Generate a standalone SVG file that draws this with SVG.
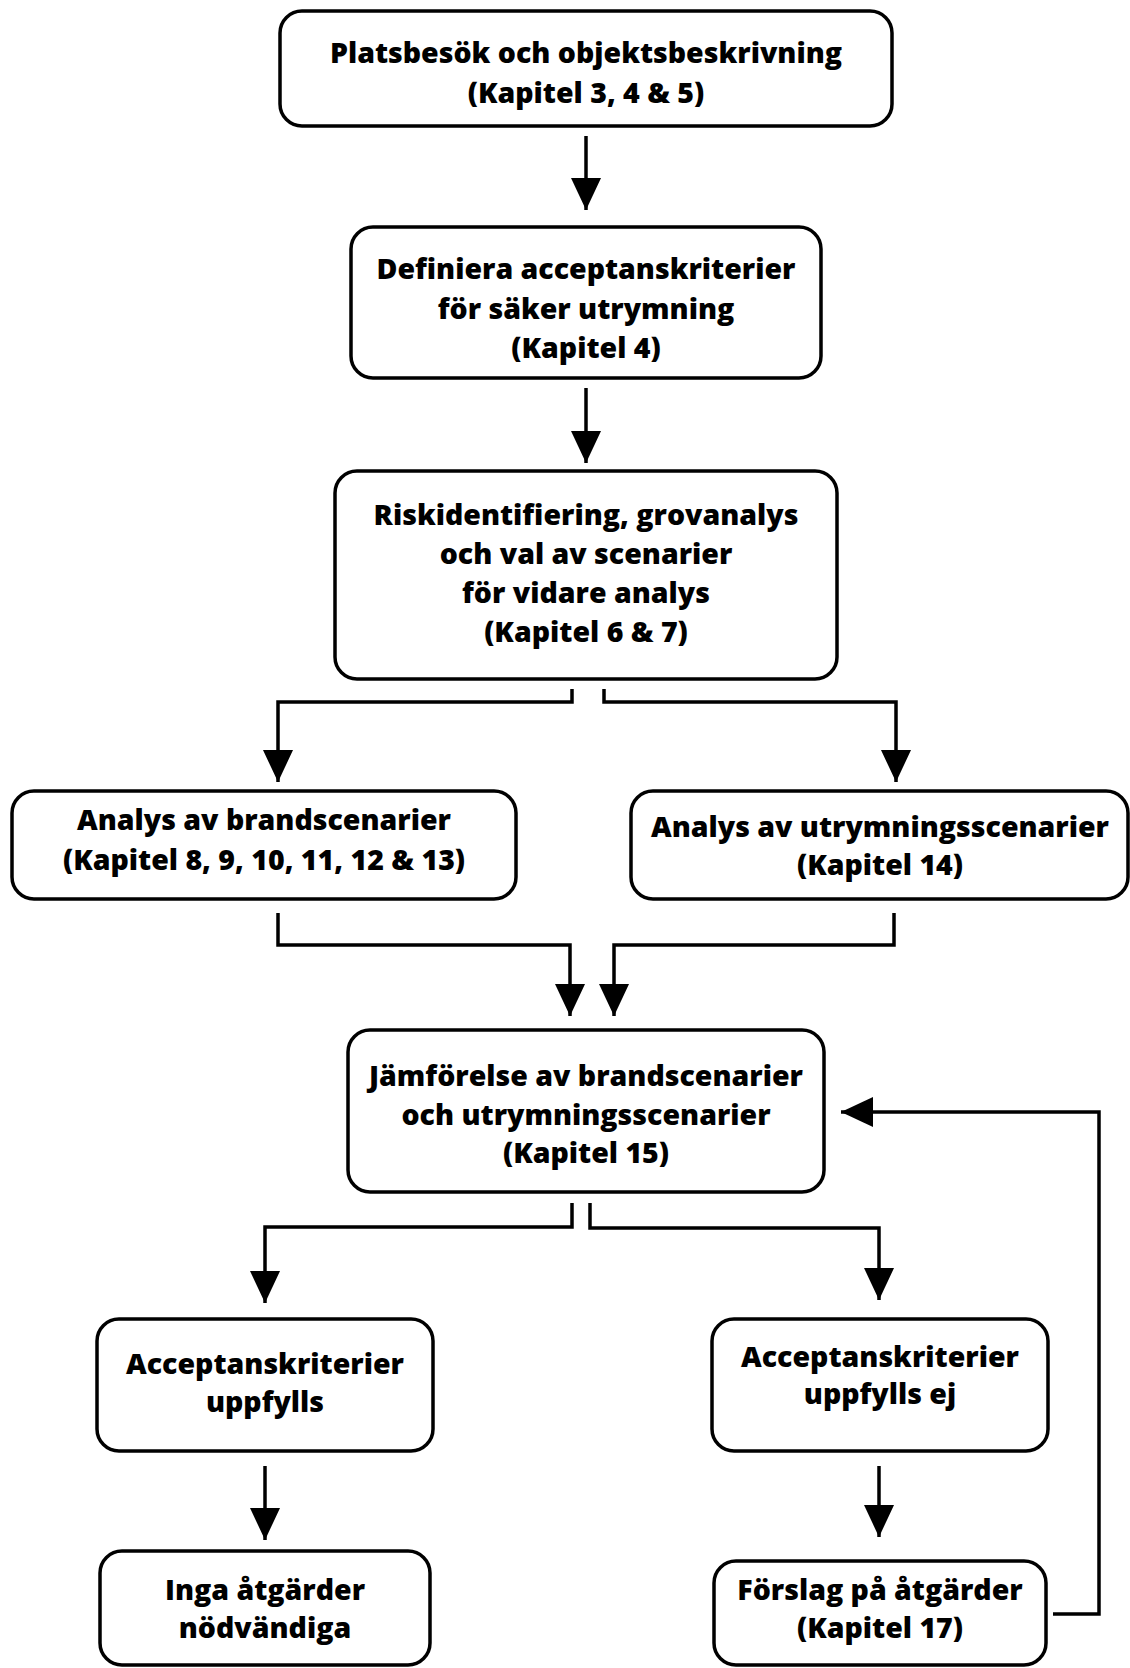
<svg xmlns="http://www.w3.org/2000/svg" width="1130" height="1668" viewBox="0 0 1130 1668">
<defs>
<marker id="ah" markerUnits="userSpaceOnUse" markerWidth="32" markerHeight="30" refX="32" refY="15" orient="auto">
<path d="M0,0 L32,15 L0,30 Z" fill="#000"/>
</marker>
<style>
.box{fill:#fff;stroke:#000;stroke-width:3.5}
.t{font-family:"Open Sans","Liberation Sans",sans-serif;font-weight:800;font-size:28.5px;text-anchor:middle;fill:#000}
.c{fill:none;stroke:#000;stroke-width:3.5}
</style>
</defs>
<rect width="1130" height="1668" fill="#fff"/>
<g id="connectors">
<path class="c" d="M586,136 V210" marker-end="url(#ah)"/>
<path class="c" d="M586,388 V463" marker-end="url(#ah)"/>
<path class="c" d="M572,689 V702 H278 V782" marker-end="url(#ah)"/>
<path class="c" d="M604,689 V702 H896 V782" marker-end="url(#ah)"/>
<path class="c" d="M278,913 V945 H570 V1016" marker-end="url(#ah)"/>
<path class="c" d="M894,913 V945 H614 V1016" marker-end="url(#ah)"/>
<path class="c" d="M572,1203 V1227 H265 V1303" marker-end="url(#ah)"/>
<path class="c" d="M590,1203 V1228 H879 V1300" marker-end="url(#ah)"/>
<path class="c" d="M265,1466 V1540" marker-end="url(#ah)"/>
<path class="c" d="M879,1466 V1537" marker-end="url(#ah)"/>
<path class="c" d="M1053,1614 H1099 V1112 H841" marker-end="url(#ah)"/>
</g>
<g id="n1">
<rect class="box" x="280" y="11" width="612" height="115" rx="22"/>
<text class="t" x="586" y="63">Platsbesök och objektsbeskrivning</text>
<text class="t" x="586" y="103">(Kapitel 3, 4 &amp; 5)</text>
</g>
<g id="n2">
<rect class="box" x="351" y="227" width="470" height="151" rx="22"/>
<text class="t" x="586" y="279">Definiera acceptanskriterier</text>
<text class="t" x="586" y="319">för säker utrymning</text>
<text class="t" x="586" y="358">(Kapitel 4)</text>
</g>
<g id="n3">
<rect class="box" x="335" y="471" width="502" height="208" rx="22"/>
<text class="t" x="586" y="525">Riskidentifiering, grovanalys</text>
<text class="t" x="586" y="564">och val av scenarier</text>
<text class="t" x="586" y="603">för vidare analys</text>
<text class="t" x="586" y="642">(Kapitel 6 &amp; 7)</text>
</g>
<g id="n4">
<rect class="box" x="12" y="791" width="504" height="108" rx="22"/>
<text class="t" x="264" y="830">Analys av brandscenarier</text>
<text class="t" x="264" y="870">(Kapitel 8, 9, 10, 11, 12 &amp; 13)</text>
</g>
<g id="n5">
<rect class="box" x="631" y="791" width="497" height="108" rx="22"/>
<text class="t" x="880" y="837">Analys av utrymningsscenarier</text>
<text class="t" x="880" y="875">(Kapitel 14)</text>
</g>
<g id="n6">
<rect class="box" x="348" y="1030" width="476" height="162" rx="22"/>
<text class="t" x="586" y="1086">Jämförelse av brandscenarier</text>
<text class="t" x="586" y="1125">och utrymningsscenarier</text>
<text class="t" x="586" y="1163">(Kapitel 15)</text>
</g>
<g id="n7">
<rect class="box" x="97" y="1319" width="336" height="132" rx="22"/>
<text class="t" x="265" y="1374">Acceptanskriterier</text>
<text class="t" x="265" y="1412">uppfylls</text>
</g>
<g id="n8">
<rect class="box" x="712" y="1319" width="336" height="132" rx="22"/>
<text class="t" x="880" y="1367">Acceptanskriterier</text>
<text class="t" x="880" y="1404">uppfylls ej</text>
</g>
<g id="n9">
<rect class="box" x="100" y="1551" width="330" height="114" rx="22"/>
<text class="t" x="265" y="1600">Inga åtgärder</text>
<text class="t" x="265" y="1638">nödvändiga</text>
</g>
<g id="n10">
<rect class="box" x="714" y="1561" width="332" height="104" rx="22"/>
<text class="t" x="880" y="1600">Förslag på åtgärder</text>
<text class="t" x="880" y="1638">(Kapitel 17)</text>
</g>
</svg>
